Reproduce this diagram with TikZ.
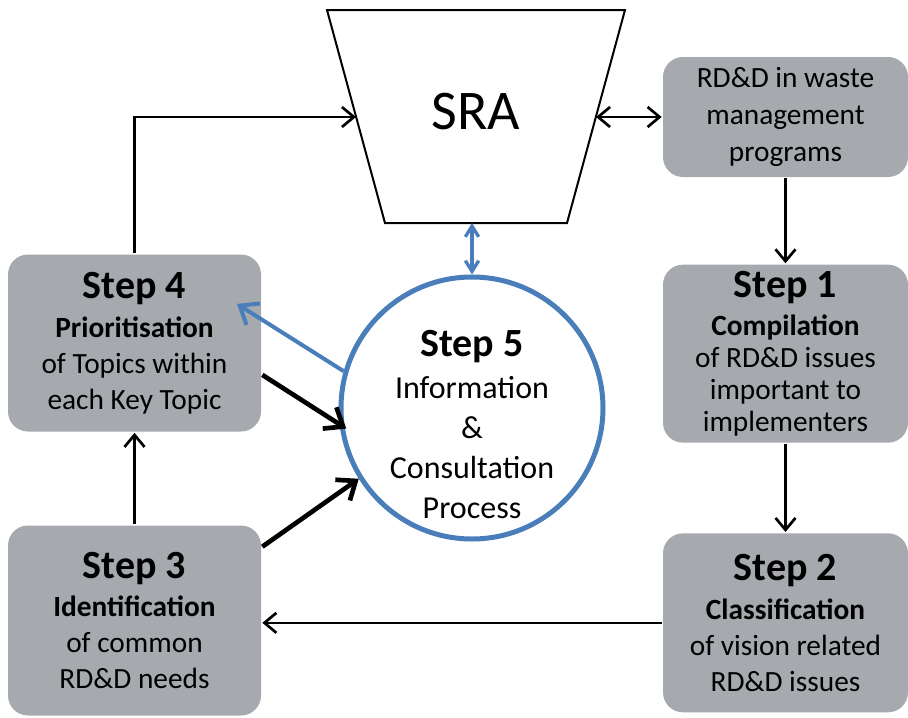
\documentclass[tikz,border=0pt]{standalone}
\usepackage{fontspec}
\setmainfont{Carlito}
\usepackage{xcolor}
\usepackage{tikz}
\usetikzlibrary{arrows.meta}
\usetikzlibrary{positioning}

\definecolor{boxgray}{RGB}{166,169,174}
\definecolor{cblue}{RGB}{74,126,187}
\newcommand{\steptitle}[1]{{\fontsize{30}{36}\selectfont\bfseries #1}}

\begin{document}
\begin{tikzpicture}[x=0.75pt,y=-0.75pt,line width=2pt,
    >={Straight Barb[length=9pt,width=15pt]}]
	\tikzstyle{stepbox}=[fill=boxgray, rounded corners=15pt, minimum width=183.75pt,
	    align=center, inner sep=4pt, font=\fontsize{22}{27}\selectfont]
	\tikzstyle{bigarrow}=[line width=3.5pt, -{Straight Barb[length=12pt,width=19pt]}]

	\useasboundingbox[fill=white] (0,0) rectangle (908,718);

			% the SRA funnel
			\draw[line width=1.5pt, fill=white] (327,10) -- (625,10) -- (567,223) -- (385,223) -- cycle;
			\coordinate (sraw) at (356,117);
			\coordinate (srae) at (596,117);
			\coordinate (sras) at (472,223);
			\node[font=\fontsize{42}{48}\selectfont] (sra) at (476,112) {SRA};

			\node[stepbox, minimum height=90pt, font=\fontsize{22}{28}\selectfont] (prog) at (785.5,117)
			    {RD\&D in waste\\management\\programs};
			\node[stepbox, minimum height=133.5pt, font=\fontsize{22}{24}\selectfont] (1) [below=63.75pt of prog]
			    {\steptitle{Step 1}\\[4pt]\textbf{Compilation}\\of RD\&D issues\\important to\\implementers};
			\node[stepbox, minimum height=134.25pt] (2) [below=66pt of 1]
			    {\steptitle{Step 2}\\[2pt]\textbf{Classification}\\of vision related\\RD\&D issues};
			\node[stepbox, minimum width=189.75pt, minimum height=132.75pt] (4) at (134.5,343)
			    {\steptitle{Step 4}\\[2pt]\textbf{Prioritisation}\\of Topics within\\each Key Topic};
			\node[stepbox, minimum width=189.75pt, minimum height=142.5pt] (3) [below=68.5pt of 4]
			    {\steptitle{Step 3}\\[2pt]\textbf{Identification}\\of common\\RD\&D needs};
			\node[circle, draw=cblue, line width=3.75pt, minimum size=196.5pt, inner sep=0pt] (5) at (472,408) {};
			\node[align=center, font=\fontsize{24}{30}\selectfont] (5text) at (472,424)
			    {\steptitle{Step 5}\\[1.5pt]Information\\\&\\Consultation\\Process};

			% flow around the loop
			\draw[->] (4.north) |- (sraw);
			\draw[<->] (srae) -- (prog.west);
			\draw[->] (prog) -- (1);
			\draw[->] (1) -- (2);
			\draw[->] (2.west) -- (3.east |- 2.west);
			\draw[->] (3) -- (4);

			% links with step 5
			\draw[cblue, line width=2.5pt, <->, >={Straight Barb[length=8pt,width=10pt]}] (sras) -- (5.north);
			\draw[bigarrow, cblue, line width=3pt] (5.164) -- ([xshift=-19pt]4.17);
			\draw[bigarrow, shorten >=-6pt] (4.-14) -- (5.187);
			\draw[bigarrow] (3.30) -- (5.212);
\end{tikzpicture}
\end{document}
